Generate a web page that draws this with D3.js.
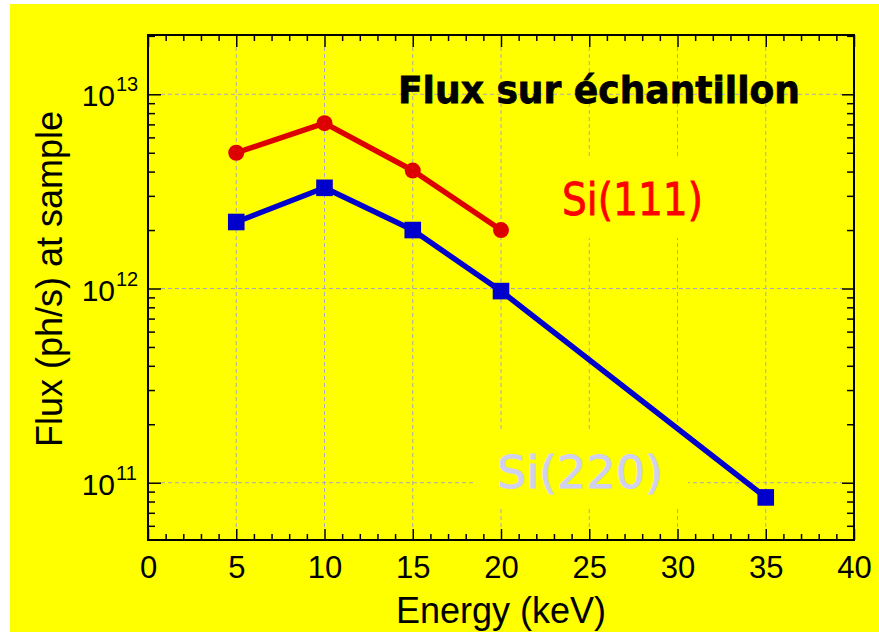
<!DOCTYPE html>
<html>
<head>
<meta charset="utf-8">
<script src="https://cdn.jsdelivr.net/npm/d3@7"></script>
<style>
  body { margin: 0; background: #ffffff; }
  svg { display: block; }
</style>
</head>
<body>
<svg id="chart" width="879" height="632"></svg>
<script>
// ---- data ----
const energySi111 = [5, 10, 15, 20];
const fluxSi111 = [5.0e12, 7.1e12, 4.05e12, 2.0e12];
const energySi220 = [5, 10, 15, 20, 35];
const fluxSi220 = [2.2e12, 3.3e12, 2.0e12, 0.97e12, 8.4e10];
const xMajorTicks = [0, 5, 10, 15, 20, 25, 30, 35, 40];
const yMajorTicks = [1e11, 1e12, 1e13];
const yTickExponents = ["11", "12", "13"];
const titleText = "Flux sur échantillon";
const xTitle = "Energy (keV)";
const yTitle = "Flux (ph/s) at sample";
const seriesLabels = ["Si(111)", "Si(220)"];

// ---- layout ----
const L = 148, R = 854, T = 35, B = 540;
const svg = d3.select("#chart");
const axisFont = "'Liberation Sans', Arial, sans-serif";

const x = d3.scaleLinear().domain([0, 40]).range([L, R]);
const y = d3.scaleLog().domain([5.07e10, 2.02e13]).range([B, T]);

// background
svg.append("rect").attr("x", 10).attr("y", 4).attr("width", 869).attr("height", 628).attr("fill", "#ffff00");

// grid
const grid = svg.append("g").attr("stroke", "#a8a8b8").attr("stroke-width", 1).attr("stroke-dasharray", "4,3");
xMajorTicks.filter(v => v > 0 && v < 40).forEach(v => {
  grid.append("line").attr("x1", x(v)).attr("x2", x(v)).attr("y1", T + 12).attr("y2", B - 11);
});
yMajorTicks.forEach(v => {
  grid.append("line").attr("x1", L + 13).attr("x2", R - 12).attr("y1", y(v)).attr("y2", y(v));
});

// label boxes masking grid
svg.append("rect").attr("x", 548).attr("y", 158).attr("width", 174).attr("height", 80).attr("fill", "#ffff00");
svg.append("rect").attr("x", 473).attr("y", 430).attr("width", 215).attr("height", 78).attr("fill", "#ffff00");

// minor ticks values
const xMinor = d3.range(1, 40).filter(v => v % 5 !== 0);
const yMinor = [];
[1e10, 1e11, 1e12, 1e13].forEach(d => { for (let k = 2; k <= 9; k++) { const v = k * d; if (v > 5.07e10 && v < 2.02e13) yMinor.push(v); } });

function styleAxis(g) {
  g.select(".domain").remove();
  g.selectAll(".tick line").attr("stroke", "#000").attr("stroke-width", 1.5);
}

// bottom axis
svg.append("g").attr("transform", `translate(0,${B})`)
  .call(d3.axisBottom(x).tickValues(xMinor).tickSize(-6).tickFormat(""))
  .call(styleAxis);
svg.append("g").attr("transform", `translate(0,${B})`)
  .call(d3.axisBottom(x).tickValues(xMajorTicks).tickSize(-11).tickPadding(16).tickFormat(d3.format("d")))
  .call(styleAxis)
  .call(g => g.selectAll("text").attr("font-family", axisFont).attr("font-size", 31).attr("fill", "#000"));
// top axis
svg.append("g").attr("transform", `translate(0,${T})`)
  .call(d3.axisTop(x).tickValues(xMinor).tickSize(-6).tickFormat(""))
  .call(styleAxis);
svg.append("g").attr("transform", `translate(0,${T})`)
  .call(d3.axisTop(x).tickValues(xMajorTicks).tickSize(-12).tickFormat(""))
  .call(styleAxis);
// left axis
svg.append("g").attr("transform", `translate(${L},0)`)
  .call(d3.axisLeft(y).tickValues(yMinor).tickSize(-7).tickFormat(""))
  .call(styleAxis);
svg.append("g").attr("transform", `translate(${L},0)`)
  .call(d3.axisLeft(y).tickValues(yMajorTicks).tickSize(-13).tickFormat(""))
  .call(styleAxis);
// right axis
svg.append("g").attr("transform", `translate(${R},0)`)
  .call(d3.axisRight(y).tickValues(yMinor).tickSize(-7).tickFormat(""))
  .call(styleAxis);
svg.append("g").attr("transform", `translate(${R},0)`)
  .call(d3.axisRight(y).tickValues(yMajorTicks).tickSize(-12).tickFormat(""))
  .call(styleAxis);

// frame
svg.append("rect").attr("x", L).attr("y", T).attr("width", R - L).attr("height", B - T)
  .attr("fill", "none").attr("stroke", "#000").attr("stroke-width", 2);

// y tick labels with superscripts
yMajorTicks.forEach((v, i) => {
  svg.append("text").attr("x", 115).attr("y", y(v) + 12).attr("text-anchor", "end")
    .attr("font-family", axisFont).attr("font-size", 30).attr("fill", "#000").text("10");
  svg.append("text").attr("x", 116).attr("y", y(v) - 3).attr("text-anchor", "start")
    .attr("font-family", axisFont).attr("font-size", 20).attr("fill", "#000").text(yTickExponents[i]);
});

// axis titles
svg.append("text").attr("x", (L + R) / 2).attr("y", 623).attr("text-anchor", "middle")
  .attr("font-family", axisFont).attr("font-size", 36).attr("fill", "#000").text(xTitle);
svg.append("text").attr("transform", "translate(62,279) rotate(-90)").attr("text-anchor", "middle")
  .attr("font-family", axisFont).attr("font-size", 36).attr("fill", "#000").text(yTitle);

// lines
const line = d3.line().x(d => x(d[0])).y(d => y(d[1]));
const d111 = energySi111.map((e, i) => [e, fluxSi111[i]]);
const d220 = energySi220.map((e, i) => [e, fluxSi220[i]]);

svg.append("path").datum(d220).attr("d", line).attr("fill", "none")
  .attr("stroke", "#0000cc").attr("stroke-width", 5.5).attr("stroke-linejoin", "round");
svg.selectAll(".sq").data(d220).enter().append("rect")
  .attr("x", d => x(d[0]) - 8.3).attr("y", d => y(d[1]) - 8.3).attr("width", 16.6).attr("height", 16.6)
  .attr("fill", "#0000cc");

svg.append("path").datum(d111).attr("d", line).attr("fill", "none")
  .attr("stroke", "#dd0000").attr("stroke-width", 5.5).attr("stroke-linejoin", "round");
svg.selectAll(".ci").data(d111).enter().append("circle")
  .attr("cx", d => x(d[0])).attr("cy", d => y(d[1])).attr("r", 8)
  .attr("fill", "#dd0000");

// title & labels
const labelFont = "'Comic Sans MS', 'DejaVu Sans', sans-serif";
svg.append("text").attr("x", 398).attr("y", 103).attr("font-family", labelFont)
  .attr("font-weight", "bold").attr("font-size", 38).attr("fill", "#000")
  .attr("stroke", "#000").attr("stroke-width", 0.8)
  .attr("textLength", 402).attr("lengthAdjust", "spacingAndGlyphs").text(titleText);
svg.append("text").attr("x", 562).attr("y", 215).attr("font-family", labelFont)
  .attr("font-size", 44).attr("fill", "#ff0000").attr("stroke", "#ff0000").attr("stroke-width", 0.8)
  .attr("textLength", 141).attr("lengthAdjust", "spacingAndGlyphs").text(seriesLabels[0]);
svg.append("text").attr("x", 497).attr("y", 488).attr("font-family", labelFont)
  .attr("font-size", 44).attr("fill", "#d0d0f0").attr("stroke", "#d0d0f0").attr("stroke-width", 0.8)
  .attr("textLength", 166).attr("lengthAdjust", "spacingAndGlyphs").text(seriesLabels[1]);
</script>
</body>
</html>
